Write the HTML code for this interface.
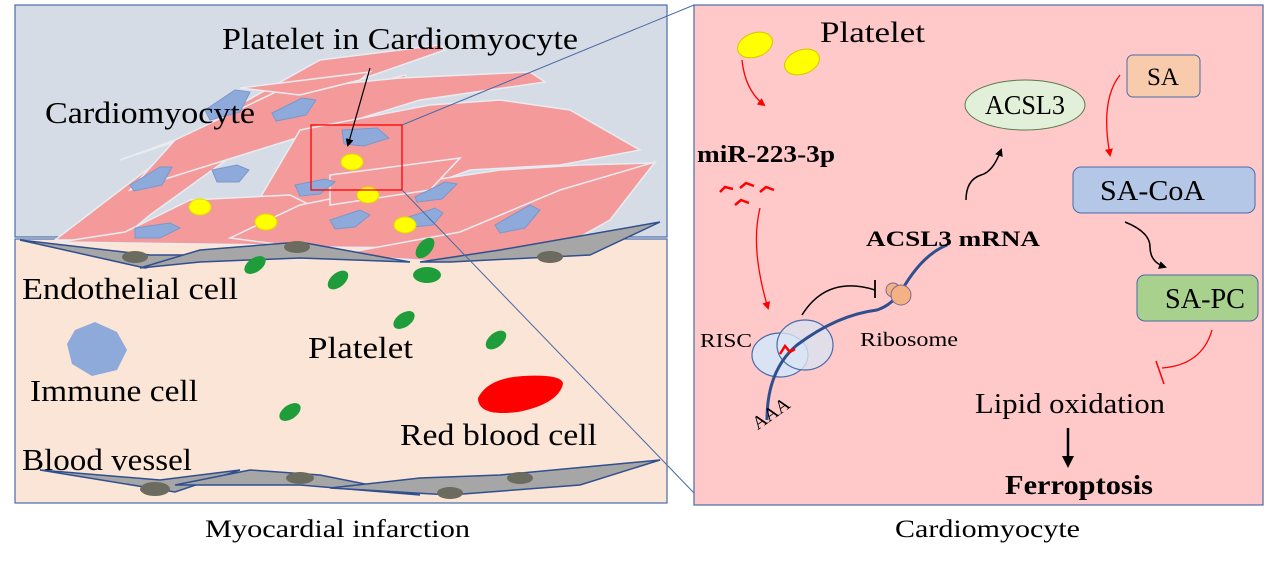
<!DOCTYPE html>
<html><head><meta charset="utf-8"><style>
html,body{margin:0;padding:0;background:#fff}
svg{display:block}
text{font-family:"Liberation Serif",serif;fill:#000}
</style></head><body>
<svg width="1269" height="566" viewBox="0 0 1269 566" xmlns="http://www.w3.org/2000/svg">
<defs>
<marker id="ab" markerWidth="8" markerHeight="8" refX="6" refY="4" orient="auto" markerUnits="userSpaceOnUse"><path d="M0,0 L8,4 L0,8 z" fill="#000"/></marker>
<marker id="ar" markerWidth="8" markerHeight="8" refX="6" refY="4" orient="auto" markerUnits="userSpaceOnUse"><path d="M0,0 L8,4 L0,8 z" fill="#f00"/></marker>
</defs>
<rect x="15" y="5" width="652" height="232" fill="#d6dce5" stroke="#4a6aa8" stroke-width="1.2"/>
<rect x="15" y="239" width="652" height="264" fill="#fbe5d6" stroke="#4a6aa8" stroke-width="1.2"/>
<g fill="#f59a9a" stroke="#e8ecf2" stroke-width="1.5">
<polygon points="55,240 140,175 230,110 320,60 440,45 445,50 330,90 240,150 150,215 120,240"/>
<polygon points="120,160 230,120 330,95 405,75 410,82 300,110 180,140"/>
<polygon points="175,140 280,90 400,78 530,72 545,82 420,100 290,140 130,190"/>
<polygon points="240,88 370,72 360,80 300,95"/>
<polygon points="300,130 430,105 500,100 570,110 640,150 560,165 470,170 430,185 380,205 250,215"/>
<polygon points="125,232 190,200 290,195 330,215 270,245 60,242"/>
<polygon points="230,238 300,205 400,185 500,170 580,165 655,163 580,205 470,248 300,247"/>
<polygon points="330,175 460,158 430,190 330,205"/>
<polygon points="335,255 460,232 560,190 655,162 610,220 560,248 450,262"/>
</g>
<g fill="#8eaadb" stroke="#7a97cc" stroke-width="1">
<path d="M205,110 l30,-20 l15,2 l-10,20 l-30,8z"/>
<path d="M272,113 l30,-15 l14,2 l-10,15 l-30,6z"/>
<path d="M342,130 l35,-2 l12,10 l-25,8 l-20,-2z"/>
<path d="M130,185 l30,-18 l12,0 l-10,18 l-28,6z"/>
<path d="M212,170 l25,-5 l12,5 l-10,12 l-22,0z"/>
<path d="M295,185 l30,-6 l10,3 l-15,12 l-20,2z"/>
<path d="M330,220 l30,-10 l10,5 l-15,12 l-20,2z"/>
<path d="M135,228 l35,-5 l10,5 l-20,10 l-25,0z"/>
<path d="M400,220 l35,-12 l8,5 l-10,12 l-30,3z"/>
<path d="M495,225 l35,-20 l10,5 l-15,18 l-25,5z"/>
<path d="M415,197 l30,-15 l12,2 l-15,15 l-25,3z"/>
</g>
<g fill="#ffff00" stroke="#e6d800"><ellipse cx="352" cy="162" rx="11" ry="8"/><ellipse cx="368" cy="195" rx="11" ry="8"/><ellipse cx="200" cy="207" rx="11" ry="8"/><ellipse cx="266" cy="222" rx="11" ry="8"/><ellipse cx="405" cy="225" rx="11" ry="8"/></g>
<g fill="#a6a6a6" stroke="#2f4f8f" stroke-width="1.5">
<polygon points="20,240 150,255 200,255 145,268"/>
<polygon points="140,268 200,250 300,242 410,262 300,258 200,262"/>
<polygon points="420,262 500,250 660,222 590,255 450,262"/>
<polygon points="40,470 160,480 240,470 175,492"/>
<polygon points="175,485 250,470 320,475 420,495 300,485"/>
<polygon points="330,488 420,478 500,475 660,460 580,485 450,495"/>
</g>
<g fill="#6b6b5f"><ellipse cx="135" cy="257" rx="13" ry="6"/><ellipse cx="297" cy="247" rx="13" ry="6"/><ellipse cx="550" cy="257" rx="13" ry="6"/><ellipse cx="155" cy="489" rx="15" ry="7"/><ellipse cx="300" cy="478" rx="14" ry="6"/><ellipse cx="450" cy="493" rx="13" ry="6"/><ellipse cx="520" cy="478" rx="13" ry="6"/></g>
<g fill="#1e9d3a"><ellipse cx="255" cy="265" rx="12" ry="7" transform="rotate(-35 255 265)"/><ellipse cx="338" cy="280" rx="12" ry="7" transform="rotate(-40 338 280)"/><ellipse cx="425" cy="248" rx="12" ry="7" transform="rotate(-50 425 248)"/><ellipse cx="427" cy="275" rx="14" ry="8"/><ellipse cx="404" cy="320" rx="12" ry="7" transform="rotate(-35 404 320)"/><ellipse cx="496" cy="340" rx="12" ry="7" transform="rotate(-40 496 340)"/><ellipse cx="290" cy="412" rx="12" ry="7" transform="rotate(-35 290 412)"/></g>
<path d="M75,330 l20,-8 l22,10 l10,18 l-10,20 l-25,6 l-20,-12 l-5,-20z" fill="#8eaadb"/>
<path d="M478,398 q10,-20 45,-22 q40,-2 40,8 q-5,20 -45,28 q-40,5 -40,-14z" fill="#f00"/>
<rect x="311" y="125" width="91" height="65" fill="none" stroke="#f00" stroke-width="1.3"/>
<line x1="370" y1="68" x2="348" y2="145" stroke="#000" stroke-width="1.2" marker-end="url(#ab)"/>
<line x1="402" y1="125" x2="694" y2="5" stroke="#4a6aa8" stroke-width="1"/>
<line x1="402" y1="190" x2="694" y2="493" stroke="#4a6aa8" stroke-width="1"/>
<g font-size="31">
<text x="222" y="49" textLength="356" lengthAdjust="spacingAndGlyphs">Platelet in Cardiomyocyte</text>
<text x="45" y="123" textLength="210" lengthAdjust="spacingAndGlyphs">Cardiomyocyte</text>
<text x="22" y="299" textLength="216" lengthAdjust="spacingAndGlyphs">Endothelial cell</text>
<text x="308" y="358" textLength="105" lengthAdjust="spacingAndGlyphs">Platelet</text>
<text x="30" y="401" textLength="168" lengthAdjust="spacingAndGlyphs">Immune cell</text>
<text x="400" y="445" textLength="197" lengthAdjust="spacingAndGlyphs">Red blood cell</text>
<text x="22" y="470" textLength="170" lengthAdjust="spacingAndGlyphs">Blood vessel</text>
</g>
<text x="205" y="537" font-size="25" textLength="265" lengthAdjust="spacingAndGlyphs">Myocardial infarction</text>
<text x="895" y="537" font-size="25" textLength="185" lengthAdjust="spacingAndGlyphs">Cardiomyocyte</text>
<rect x="694" y="5" width="569" height="500" fill="#ffc9c9" stroke="#4a6aa8" stroke-width="1.2"/>
<ellipse cx="755" cy="45" rx="18" ry="12" fill="#ffff00" stroke="#d6c600" transform="rotate(-20 755 45)"/>
<ellipse cx="802" cy="62" rx="18" ry="12" fill="#ffff00" stroke="#d6c600" transform="rotate(-20 802 62)"/>
<text x="820" y="42" font-size="30" textLength="105" lengthAdjust="spacingAndGlyphs">Platelet</text>
<path d="M742,60 q3,30 22,45" fill="none" stroke="#f00" stroke-width="1.3" marker-end="url(#ar)"/>
<text x="697" y="162" font-size="24" font-weight="bold" textLength="138" lengthAdjust="spacingAndGlyphs">miR-223-3p</text>
<path d="M720,192 l5,-5 l8,2 M740,188 l6,-5 l8,3 M760,192 l6,-5 l8,3 M735,205 l6,-5 l8,3" fill="none" stroke="#f00" stroke-width="2.5"/>
<path d="M760,208 q-10,40 8,100" fill="none" stroke="#f00" stroke-width="1.3" marker-end="url(#ar)"/>
<ellipse cx="780" cy="355" rx="28" ry="22" fill="#dae3f3" stroke="#4a6aa8" stroke-width="1.2"/>
<ellipse cx="805" cy="345" rx="28" ry="25" fill="#dae3f3" stroke="#4a6aa8" stroke-width="1.2" fill-opacity="0.8"/>
<path d="M767,420 q0,-50 30,-75 q40,-30 80,-35 q15,-5 25,-20 q20,-35 45,-45" fill="none" stroke="#2f4f8f" stroke-width="3"/>
<path d="M780,354 l5,-8 l5,6 l5,-3" fill="none" stroke="#f00" stroke-width="2.5"/>
<path d="M802,315 q25,-40 73,-25" fill="none" stroke="#000" stroke-width="1.5"/>
<line x1="875" y1="280" x2="875" y2="298" stroke="#000" stroke-width="1.8"/>
<circle cx="893" cy="290" r="7" fill="#f4b183" stroke="#7a6a90"/>
<circle cx="901" cy="295" r="10" fill="#f4b183" stroke="#7a6a90"/>
<text x="866" y="246" font-size="22" font-weight="bold" textLength="174" lengthAdjust="spacingAndGlyphs">ACSL3 mRNA</text>
<text x="700" y="347" font-size="20" textLength="52" lengthAdjust="spacingAndGlyphs">RISC</text>
<text x="860" y="346" font-size="20" textLength="98" lengthAdjust="spacingAndGlyphs">Ribosome</text>
<text x="755" y="428" font-size="19" transform="rotate(-35 760 425)">AAA</text>
<path d="M966,200 q0,-20 15,-25 q12,-3 20,-25" fill="none" stroke="#000" stroke-width="1.5" marker-end="url(#ab)"/>
<ellipse cx="1025" cy="105" rx="60" ry="25" fill="#e2f0d9" stroke="#5a7a4a" stroke-width="1"/>
<text x="985" y="114" font-size="27" textLength="80" lengthAdjust="spacingAndGlyphs">ACSL3</text>
<rect x="1127" y="55" width="73" height="42" rx="6" fill="#f8cbad" stroke="#4a6aa8"/>
<text x="1163" y="85" font-size="25" text-anchor="middle">SA</text>
<path d="M1120,75 q-20,25 -10,80" fill="none" stroke="#f00" stroke-width="1.3" marker-end="url(#ar)"/>
<rect x="1073" y="167" width="182" height="46" rx="8" fill="#b4c7e7" stroke="#4a6aa8"/>
<text x="1100" y="200" font-size="28" textLength="105" lengthAdjust="spacingAndGlyphs">SA-CoA</text>
<path d="M1125,222 q25,10 25,25 q0,15 15,20" fill="none" stroke="#000" stroke-width="1.5" marker-end="url(#ab)"/>
<rect x="1137" y="275" width="121" height="46" rx="8" fill="#a9d18e" stroke="#4a6aa8"/>
<text x="1165" y="308" font-size="28" textLength="80" lengthAdjust="spacingAndGlyphs">SA-PC</text>
<path d="M1212,330 q-10,35 -50,38" fill="none" stroke="#f00" stroke-width="1.3"/>
<line x1="1156" y1="361" x2="1164" y2="384" stroke="#f00" stroke-width="1.5"/>
<text x="975" y="413" font-size="28" textLength="190" lengthAdjust="spacingAndGlyphs">Lipid oxidation</text>
<line x1="1068" y1="428" x2="1068" y2="460" stroke="#000" stroke-width="2.5"/>
<path d="M1062,456 L1068,468 L1074,456z" fill="#000"/>
<text x="1005" y="494" font-size="27" font-weight="bold" textLength="148" lengthAdjust="spacingAndGlyphs">Ferroptosis</text>
</svg>
</body></html>
